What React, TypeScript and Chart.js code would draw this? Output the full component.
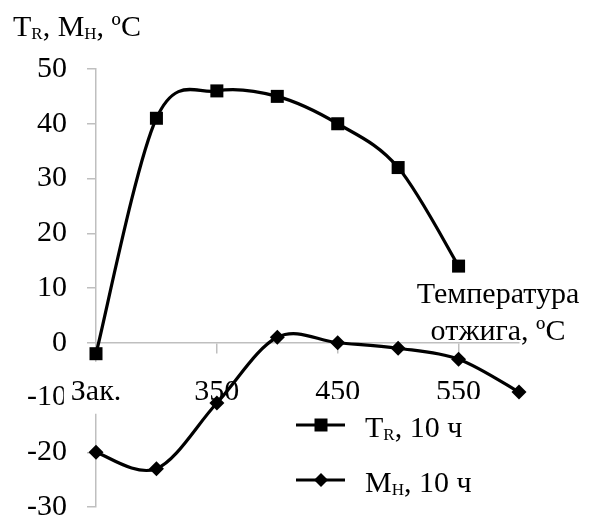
import React, { useEffect, useRef } from 'react';
import { Chart, registerables } from 'chart.js';

Chart.register(...registerables);

const FONT = "'Liberation Serif', 'Times New Roman', serif";

const categories = ['Зак.', '300', '350', '400', '450', '500', '550', '600'];
const trValues: (number | null)[] = [-2, 41, 46, 45, 40, 32, 14, null];
const mhValues: (number | null)[] = [-20, -23, -11, 1, 0, -1, -3, -9];
const yMin = -30;
const yMax = 50;
const yStep = 10;
const shownXLabels = ['Зак.', '350', '450', '550'];

type Seg = { t: string; sub?: boolean };

function drawRich(ctx: CanvasRenderingContext2D, x: number, y: number, segs: Seg[]) {
  const big = `30px ${FONT}`;
  const small = `17px ${FONT}`;
  let cx = x;
  ctx.textAlign = 'left';
  ctx.textBaseline = 'alphabetic';
  for (const s of segs) {
    ctx.font = s.sub ? small : big;
    ctx.fillText(s.t, cx, s.sub ? y + 3 : y);
    cx += ctx.measureText(s.t).width;
  }
}

// Excel-like smoothing (Catmull-Rom control points) applied to the library's own points
const smoothPlugin = {
  id: 'excelSmooth',
  beforeDatasetDraw(chart: any, args: any) {
    const meta = chart.getDatasetMeta(args.index);
    const line = meta.dataset;
    if (!line) return;
    const pts = meta.data.filter((p: any) => !p.skip);
    for (let i = 0; i < pts.length; i++) {
      const p = pts[i];
      const prev = pts[i - 1] || p;
      const next = pts[i + 1] || p;
      const dx = (next.x - prev.x) / 6;
      const dy = (next.y - prev.y) / 6;
      p.cp1x = p.x - dx;
      p.cp1y = p.y - dy;
      p.cp2x = p.x + dx;
      p.cp2y = p.y + dy;
    }
    line._pointsUpdated = true;
    delete line._path;
  },
};

const annotPlugin = {
  id: 'annot',
  afterDraw(chart: any) {
    const ctx: CanvasRenderingContext2D = chart.ctx;
    ctx.save();
    ctx.fillStyle = '#000';
    drawRich(ctx, 13, 36, [
      { t: 'T' }, { t: 'R', sub: true }, { t: ', M' }, { t: 'H', sub: true }, { t: ', ºC' },
    ]);
    ctx.font = `30px ${FONT}`;
    ctx.textAlign = 'center';
    ctx.textBaseline = 'alphabetic';
    ctx.fillText('Температура', 498, 303);
    ctx.fillText('отжига, ºC', 498, 340);

    // legend
    ctx.fillStyle = '#fff';
    ctx.fillRect(285, 399, 215, 110);
    const rows = [
      { y: 425, style: 'rect', segs: [{ t: 'T' }, { t: 'R', sub: true }, { t: ', 10 ч' }] },
      { y: 480, style: 'rectRot', segs: [{ t: 'M' }, { t: 'H', sub: true }, { t: ', 10 ч' }] },
    ];
    for (const r of rows) {
      ctx.strokeStyle = '#000';
      ctx.lineWidth = 3;
      ctx.beginPath();
      ctx.moveTo(296, r.y);
      ctx.lineTo(345, r.y);
      ctx.stroke();
      ctx.fillStyle = '#000';
      ctx.beginPath();
      if (r.style === 'rect') {
        ctx.rect(321 - 6.5, r.y - 6.5, 13, 13);
      } else {
        ctx.moveTo(321, r.y - 7);
        ctx.lineTo(328, r.y);
        ctx.lineTo(321, r.y + 7);
        ctx.lineTo(314, r.y);
        ctx.closePath();
      }
      ctx.fill();
      drawRich(ctx, 365, r.y + 12, r.segs);
    }
    ctx.restore();
  },
};

export default function App() {
  const ref = useRef<HTMLCanvasElement>(null);
  useEffect(() => {
    if (!ref.current) return;
    const gray = '#bfbfbf';
    const chart = new Chart(ref.current, {
      type: 'line',
      data: {
        labels: categories,
        datasets: [
          {
            label: 'TR, 10 ч',
            data: trValues,
            borderColor: '#000',
            backgroundColor: '#000',
            borderWidth: 3.2,
            pointStyle: 'rect',
            pointRadius: 9.2,
            pointBorderWidth: 0,
            tension: 0.4,
            clip: false as any,
          },
          {
            label: 'MH, 10 ч',
            data: mhValues,
            borderColor: '#000',
            backgroundColor: '#000',
            borderWidth: 3.2,
            pointStyle: 'rectRot',
            pointRadius: 7.5,
            pointBorderWidth: 0,
            tension: 0.4,
            clip: false as any,
          },
        ],
      },
      options: {
        animation: false,
        responsive: false,
        maintainAspectRatio: false,
        layout: { padding: { left: 8, right: 73, top: 69, bottom: 12 } },
        plugins: {
          legend: { display: false },
          tooltip: { enabled: false },
        },
        scales: {
          y: {
            min: yMin,
            max: yMax,
            ticks: {
              stepSize: yStep,
              color: '#000',
              font: { family: FONT, size: 30 },
              padding: 20,
              z: -1,
              callback: (v: any) => String(v),
            },
            grid: { drawOnChartArea: false, drawTicks: true, tickLength: 9, color: gray, lineWidth: 1.5 },
            border: { color: gray, width: 1.5, z: -1 },
            afterFit: (s: any) => {
              s.width = 88;
              s.paddingTop = 0;
              s.paddingBottom = 0;
            },
          },
          x: {
            type: 'category',
            position: { y: 0 } as any,
            offset: false,
            ticks: {
              autoSkip: false,
              maxRotation: 0,
              color: '#000',
              font: { family: FONT, size: 30 },
              padding: 21,
              showLabelBackdrop: true,
              backdropColor: '#fff',
              backdropPadding: { top: 12, bottom: 4, left: 7, right: 7 },
              callback: function (this: any, _v: any, i: number) {
                const l = categories[i];
                return shownXLabels.includes(l) ? l : '';
              },
            } as any,
            grid: {
              drawOnChartArea: false,
              drawTicks: true,
              tickLength: 10,
              lineWidth: 1.5,
              color: (c: any) => (shownXLabels.includes(categories[c.index]) ? gray : 'rgba(0,0,0,0)'),
            },
            border: { color: gray, width: 1.5 },
            afterFit: (s: any) => {
              s.paddingLeft = 0;
              s.paddingRight = 0;
            },
          },
        },
      },
      plugins: [smoothPlugin, annotPlugin],
    } as any);
    return () => chart.destroy();
  }, []);
  return (
    <div style={{ position: 'fixed', left: 0, top: 0, width: 592, height: 519, background: '#fff' }}>
      <canvas ref={ref} width={592} height={519} style={{ display: 'block' }} />
    </div>
  );
}
